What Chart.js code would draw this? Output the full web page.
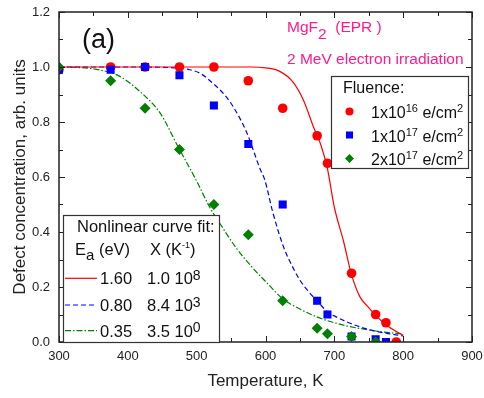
<!DOCTYPE html>
<html>
<head>
<meta charset="utf-8">
<script src="https://cdn.jsdelivr.net/npm/chart.js@4.4.0/dist/chart.umd.min.js"></script>
<style>
  html, body { margin: 0; padding: 0; background: #fff; }
  #wrap { width: 484px; height: 398px; }
</style>
</head>
<body>
<div id="wrap"><canvas id="chart" width="484" height="398"></canvas></div>
<script>
// measured data (EPR, MgF2)
const temps16 = [300, 375, 425, 475, 525, 575, 625, 675, 690, 725, 760, 775, 790];
const conc16 = [0.99, 1.0, 1.0, 1.0, 1.0, 0.95, 0.85, 0.75, 0.65, 0.25, 0.10, 0.07, 0.0];
const temps17 = [300, 375, 425, 475, 525, 575, 625, 675, 690, 725, 760, 775];
const conc17 = [0.99, 0.99, 1.0, 0.97, 0.86, 0.72, 0.50, 0.15, 0.10, 0.02, 0.01, 0.0];
const temps2e17 = [300, 375, 425, 475, 525, 575, 625, 675, 690, 725, 760];
const conc2e17 = [1.0, 0.95, 0.85, 0.70, 0.50, 0.39, 0.15, 0.05, 0.03, 0.02, 0.0];

// fit curves
const fitTemps1 = [300, 400, 500, 580, 600, 620, 640, 655, 670, 680, 690, 700, 713, 725, 737, 750, 760, 775, 790, 800];
const fitConc1 = [1.0, 1.0, 1.0, 1.0, 0.997, 0.985, 0.945, 0.88, 0.78, 0.72, 0.63, 0.49, 0.37, 0.245, 0.165, 0.125, 0.097, 0.063, 0.038, 0.025];
const fitTemps2 = [300, 400, 460, 490, 505, 524, 540, 553, 573, 592, 599, 611, 626, 636, 650, 662, 674, 690, 700, 723, 752, 775, 800];
const fitConc2 = [1.0, 1.0, 0.998, 0.99, 0.977, 0.94, 0.9, 0.856, 0.76, 0.63, 0.589, 0.468, 0.347, 0.29, 0.225, 0.185, 0.152, 0.11, 0.095, 0.068, 0.044, 0.032, 0.022];
const fitTemps3 = [300, 330, 360, 389, 418, 447, 473, 500, 519, 534, 558, 582, 602, 626, 650, 674, 700, 723, 760, 800];
const fitConc3 = [1.0, 0.998, 0.989, 0.965, 0.91, 0.832, 0.71, 0.585, 0.49, 0.43, 0.34, 0.268, 0.215, 0.155, 0.12, 0.092, 0.07, 0.056, 0.04, 0.029];

// legend texts
const fluenceExp = ['16', '17', '17'];
const fluenceMant = ['1x10', '1x10', '2x10'];
const fitEa = ['1.60', '0.80', '0.35'];
const fitXMant = ['1.0 10', '8.4 10', '3.5 10'];
const fitXExp = ['8', '3', '0'];

const xTicks = [300, 400, 500, 600, 700, 800, 900];
const yTicks = [0.0, 0.2, 0.4, 0.6, 0.8, 1.0, 1.2];

const RED = '#ff0000', BLUE = '#0000ff', GREEN = '#008000', PINK = '#ff1a8c';
const FONT = '"Liberation Sans", Arial, sans-serif';

function toXY(xs, ys) {
    return xs.map((x, i) => ({ x: x, y: ys[i] }));
}

// 多段文字（上下标）
function richText(ctx, x, y, parts, color) {
    ctx.fillStyle = color;
    ctx.textBaseline = 'alphabetic';
    ctx.textAlign = 'left';
    parts.forEach(([t, size, dy]) => {
        ctx.font = size + 'px ' + FONT;
        ctx.fillText(t, x, y + (dy || 0));
        x += ctx.measureText(t).width;
    });
}

function marker(ctx, type, x, y, r, color) {
    ctx.fillStyle = color;
    ctx.beginPath();
    if (type === 'circle') {
        ctx.arc(x, y, r, 0, Math.PI * 2);
    } else if (type === 'rect') {
        const s = r * Math.SQRT1_2;
        ctx.rect(x - s, y - s, 2 * s, 2 * s);
    } else {
        ctx.moveTo(x - r, y); ctx.lineTo(x, y - r); ctx.lineTo(x + r, y); ctx.lineTo(x, y + r);
        ctx.closePath();
    }
    ctx.fill();
}

// 边框、内向刻度、图例和标注
const decor = {
    id: 'decor',
    afterDatasetsDraw(chart) {
        const ctx = chart.ctx;
        const a = chart.chartArea;
        const sx = chart.scales.x, sy = chart.scales.y;
        ctx.save();
        ctx.strokeStyle = '#222';
        ctx.lineWidth = 1.5;
        ctx.strokeRect(a.left, a.top, a.right - a.left, a.bottom - a.top);
        ctx.lineWidth = 1;
        ctx.beginPath();
        for (let v = 300; v <= 900; v += 50) {
            const px = Math.round(sx.getPixelForValue(v)) + 0.5;
            const len = v % 100 === 0 ? 6 : 4;
            ctx.moveTo(px, a.bottom); ctx.lineTo(px, a.bottom - len);
            ctx.moveTo(px, a.top); ctx.lineTo(px, a.top + len);
        }
        for (let k = 0; k <= 12; k++) {
            const py = Math.round(sy.getPixelForValue(k / 10)) + 0.5;
            const len = k % 2 === 0 ? 6 : 4;
            ctx.moveTo(a.left, py); ctx.lineTo(a.left + len, py);
            ctx.moveTo(a.right, py); ctx.lineTo(a.right - len, py);
        }
        ctx.stroke();

        // Fluence legend
        ctx.fillStyle = '#fff';
        ctx.fillRect(331, 76, 137, 92);
        ctx.strokeStyle = '#333';
        ctx.lineWidth = 1.2;
        ctx.strokeRect(331.5, 76.5, 137, 92);
        richText(ctx, 343, 93, [['Fluence:', 16]], '#111');
        const rowsY = [118, 141.5, 165];
        const kinds = [['circle', RED, 4], ['rect', BLUE, 5], ['diamond', GREEN, 4.5]];
        rowsY.forEach((by, i) => {
            marker(ctx, kinds[i][0], 349.5, by - 6.5, kinds[i][2], kinds[i][1]);
            richText(ctx, 371, by, [[fluenceMant[i], 16], [fluenceExp[i], 11, -6], [' e/cm', 16], ['2', 11, -6]], '#111');
        });

        // fit legend
        ctx.fillStyle = '#fff';
        ctx.fillRect(63, 215, 156, 127);
        ctx.strokeStyle = '#333';
        ctx.lineWidth = 1.2;
        ctx.strokeRect(63.5, 215.5, 156, 127);
        richText(ctx, 77, 231.5, [['Nonlinear curve fit:', 16.5]], '#111');
        richText(ctx, 75, 255, [['E', 16.5], ['a', 15, 4.5], [' (eV)', 16.5]], '#111');
        richText(ctx, 150, 255, [['X (K', 16.5], ['-1', 9, -7], [')', 16.5]], '#111');
        const fitY = [284.3, 311, 336.7];
        const dashes = [[], [5, 3], [6, 2, 1.5, 2]];
        const cols = [RED, BLUE, GREEN];
        fitY.forEach((by, i) => {
            ctx.strokeStyle = cols[i];
            ctx.lineWidth = 1.2;
            ctx.setLineDash(dashes[i]);
            ctx.beginPath();
            ctx.moveTo(65, by - 6); ctx.lineTo(97, by - 6);
            ctx.stroke();
            ctx.setLineDash([]);
            richText(ctx, 100, by, [[fitEa[i], 16.5]], '#111');
            richText(ctx, 147, by, [[fitXMant[i], 16.5], [fitXExp[i], 14, -4.5]], '#111');
        });

        // annotations
        richText(ctx, 82, 48, [['(a)', 27]], '#111');
        richText(ctx, 287, 31.5, [['MgF', 15.5], ['2', 15.5, 7.5], ['  (EPR )', 15.5]], PINK);
        richText(ctx, 287, 64, [['2 MeV electron irradiation', 15.5]], PINK);
        ctx.restore();
    }
};

function initChart() {
    const ctx = document.getElementById('chart').getContext('2d');
    Chart.defaults.font.family = FONT;
    Chart.defaults.color = '#222';

    const fitLine = (data, color, dash) => ({
        type: 'line',
        data: data,
        borderColor: color,
        borderWidth: 1.2,
        borderDash: dash,
        pointRadius: 0,
        fill: false,
        cubicInterpolationMode: 'monotone',
        order: 5
    });
    const pts = (data, color, style, r, order) => ({
        type: 'scatter',
        data: data,
        backgroundColor: color,
        borderColor: color,
        borderWidth: 0,
        pointStyle: style,
        pointRadius: r,
        order: order
    });

    new Chart(ctx, {
        data: {
            datasets: [
                fitLine(toXY(fitTemps1, fitConc1), RED, []),
                fitLine(toXY(fitTemps2, fitConc2), BLUE, [5, 3]),
                fitLine(toXY(fitTemps3, fitConc3), GREEN, [6, 2, 1.5, 2]),
                pts(toXY(temps16, conc16), RED, 'circle', 4.8, 3),
                pts(toXY(temps17, conc17), BLUE, 'rect', 5.7, 2),
                pts(toXY(temps2e17, conc2e17), GREEN, 'rectRot', 5.5, 1)
            ]
        },
        options: {
            responsive: false,
            animation: false,
            layout: { padding: { top: 12, right: 12, left: 0, bottom: 0 } },
            plugins: { legend: { display: false }, tooltip: { enabled: false } },
            scales: {
                x: {
                    type: 'linear',
                    min: 300,
                    max: 900,
                    afterFit: s => { s.height = 56; s.paddingLeft = 0; s.paddingRight = 0; },
                    afterBuildTicks: s => { s.ticks = xTicks.map(v => ({ value: v })); },
                    grid: { display: false, drawTicks: false },
                    border: { display: false },
                    ticks: { padding: 7, color: '#222', font: { size: 13 }, maxRotation: 0 },
                    title: { display: true, text: 'Temperature, K', color: '#222', font: { size: 17 }, padding: { bottom: 6, top: 0 } }
                },
                y: {
                    type: 'linear',
                    min: 0,
                    max: 1.2,
                    afterFit: s => { s.width = 59; s.paddingTop = 0; s.paddingBottom = 0; },
                    afterBuildTicks: s => { s.ticks = yTicks.map(v => ({ value: v })); },
                    grid: { display: false, drawTicks: false },
                    border: { display: false },
                    ticks: { padding: 9, color: '#222', font: { size: 13 }, callback: v => v.toFixed(1) },
                    title: { display: true, text: 'Defect concentration, arb. units', color: '#222', font: { size: 17 }, padding: { top: 10, bottom: 0 } }
                }
            }
        },
        plugins: [decor]
    });
}

document.addEventListener('DOMContentLoaded', initChart);
</script>
</body>
</html>
